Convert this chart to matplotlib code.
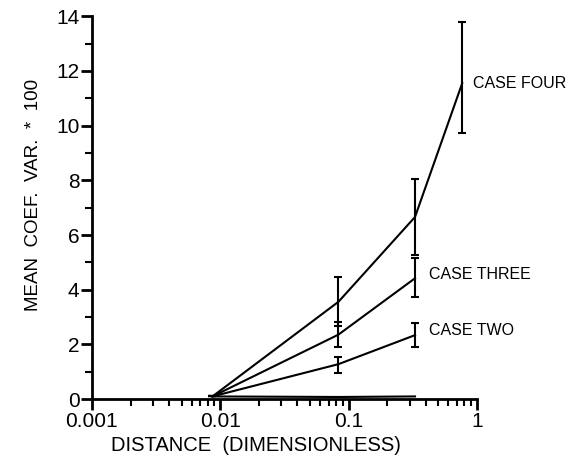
import matplotlib.pyplot as plt
from matplotlib.ticker import LogLocator, MultipleLocator, FixedFormatter, FixedLocator

plt.rcParams['font.family'] = ['Liberation Sans', 'DejaVu Sans']

# distances (dimensionless)
dist = [0.0087, 0.0835, 0.33]
dist_four = [0.0087, 0.0835, 0.33, 0.77]

# mean coef. var. * 100, with error bar ends
case_one = [0.1, 0.08, 0.1]

case_two = [0.1, 1.28, 2.34]
case_two_lo = [0.1, 0.95, 1.9]
case_two_hi = [0.1, 1.55, 2.79]

case_three = [0.1, 2.36, 4.42]
case_three_lo = [0.1, 1.91, 3.74]
case_three_hi = [0.1, 2.83, 5.15]

case_four = [0.1, 3.56, 6.66, 11.55]
case_four_lo = [0.1, 2.67, 5.26, 9.72]
case_four_hi = [0.1, 4.47, 8.04, 13.79]

labels = ["CASE TWO", "CASE THREE", "CASE FOUR"]
label_pos = [(0.427, 2.52), (0.427, 4.57), (0.94, 11.55)]

xticks = [0.001, 0.01, 0.1, 1]
xtick_labels = ["0.001", "0.01", "0.1", "1"]


def errs(v, lo, hi):
    return [[a - b for a, b in zip(v, lo)], [c - a for a, c in zip(v, hi)]]


fig = plt.figure(figsize=(5.71, 4.62), dpi=100)
ax = fig.add_axes([0.161, 0.136, 0.674, 0.829])

ax.plot(dist, case_one, color="black", lw=1.5)
ax.errorbar(dist, case_two, yerr=errs(case_two, case_two_lo, case_two_hi),
            color="black", lw=1.5, capsize=3, capthick=1.5)
ax.errorbar(dist, case_three, yerr=errs(case_three, case_three_lo, case_three_hi),
            color="black", lw=1.5, capsize=3, capthick=1.5)
ax.errorbar(dist_four, case_four, yerr=errs(case_four, case_four_lo, case_four_hi),
            color="black", lw=1.5, capsize=3, capthick=1.5)

for txt, (tx, ty) in zip(labels, label_pos):
    ax.text(tx, ty, txt, fontsize=11.5, ha="left", va="center")

ax.set_xscale("log")
ax.set_xlim(0.001, 1)
ax.set_ylim(0, 14)

ax.xaxis.set_major_locator(FixedLocator(xticks))
ax.xaxis.set_major_formatter(FixedFormatter(xtick_labels))
ax.xaxis.set_minor_locator(LogLocator(base=10, subs=range(2, 10)))
ax.yaxis.set_major_locator(MultipleLocator(2))
ax.yaxis.set_minor_locator(MultipleLocator(1))

ax.spines["top"].set_visible(False)
ax.spines["right"].set_visible(False)
ax.spines["left"].set_linewidth(2)
ax.spines["bottom"].set_linewidth(2)
ax.tick_params(which="major", length=8, width=2, labelsize=15, pad=1)
ax.tick_params(which="minor", length=5, width=1.5)

ax.set_xlabel("DISTANCE  (DIMENSIONLESS)", fontsize=14.5)
ax.set_ylabel("MEAN  COEF.  VAR.  *  100", fontsize=13.5)
ax.xaxis.set_label_coords(0.426, -0.097)
ax.yaxis.set_label_coords(-0.13, 0.533)

fig.savefig("out.png", dpi=100)
